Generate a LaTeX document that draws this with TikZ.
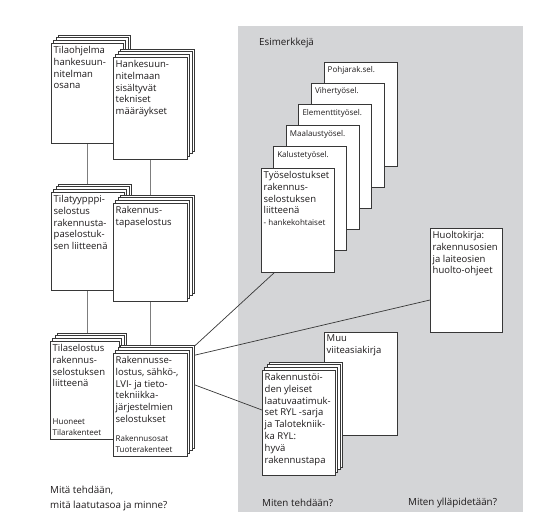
\documentclass[tikz,border=0pt]{standalone}
\usepackage{fontspec}
\setmainfont{Open Sans}
\usetikzlibrary{backgrounds}

\definecolor{panelgray}{RGB}{212,213,215}
\definecolor{edgegray}{RGB}{55,55,55}
\definecolor{linkgray}{RGB}{125,125,125}
\definecolor{inkblack}{RGB}{30,27,28}

\tikzset{
  page/.style={draw=edgegray, fill=white, line width=0.7pt},
  frontpage/.style={page, anchor=north west, outer sep=0pt, inner sep=0pt},
  doctext/.style={anchor=north west, align=left, inner xsep=2.5pt, inner ysep=3pt, text=inkblack, font=\fontsize{9.5}{11.8}\selectfont},
  subtext/.style={anchor=south west, align=left, inner xsep=2.5pt, inner ysep=3pt, text=inkblack, font=\fontsize{8}{10.8}\selectfont},
  tabtext/.style={anchor=north west, inner xsep=3.5pt, inner ysep=4.5pt, text=inkblack, font=\fontsize{8}{9}\selectfont},
  legendtext/.style={anchor=west, align=left, inner sep=0pt, text=inkblack, font=\fontsize{9.8}{15}\selectfont},
  vlink/.style={draw=linkgray, line width=0.8pt},
  link/.style={draw=edgegray, line width=0.7pt}
}

% a front page with three pages behind it
\newcommand{\pagepile}[4]{%
  \foreach \k in {3,2,1}
    \draw[page, shift={(2.6*\k,-2.6*\k)}] #2 rectangle ++(#3,#4);
  \node[frontpage, minimum width=#3pt, minimum height=#4pt] (#1) at #2 {};
}

\begin{document}
\begin{tikzpicture}[x=1pt, y=-1pt]
  \useasboundingbox (0,0) rectangle (543,525);
  \begin{scope}[on background layer]
    \fill[panelgray] (238,26) rectangle (523,512);
  \end{scope}

  % left column
  \pagepile{tila}{(51,43)}{72}{100}
  \node[doctext] (tila-t) at (tila.north west) {Tilaohjelma\\hankesuun-\\nitelman\\osana};
  \pagepile{hanke}{(113,57)}{74}{102}
  \node[doctext] (hanke-t) at (hanke.north west) {Hankesuun-\\nitelmaan\\sisältyvät\\tekniset\\määräykset};
  \pagepile{tyyppi}{(51,192)}{73}{98}
  \node[doctext] (tyyppi-t) at (tyyppi.north west) {Tilatyypppi-\\selostus\\rakennusta-\\paselostuk-\\sen liitteenä};
  \pagepile{tapa}{(113,203)}{74}{98}
  \node[doctext] (tapa-t) at (tapa.north west) {Rakennus-\\tapaselostus};
  \pagepile{tilasel}{(50,341)}{69}{98}
  \node[doctext] (tilasel-t) at (tilasel.north west) {Tilaselostus\\rakennus-\\selostuksen\\liitteenä};
  \node[subtext] (tilasel-s) at (tilasel.south west) {Huoneet\\Tilarakenteet};
  \pagepile{raksel}{(113,353)}{74}{103}
  \node[doctext] (raksel-t) at (raksel.north west) {Rakennusse-\\lostus, sähkö-,\\LVI- ja tieto-\\tekniikka-\\järjestelmien\\selostukset};
  \node[subtext] (raksel-s) at (raksel.south west) {Rakennusosat\\Tuoterakenteet};

  % examples
  \node[legendtext] (esim) at (259,43) {Esimerkkejä};
  \foreach \lbl [count=\i] in {Pohjarak.sel., Vihertyösel., Elementtityösel., Maalaustyösel., Kalustetyösel.} {
    \node[frontpage, minimum width=73pt, minimum height=104pt] (ty\i) at ({324-12.6*(\i-1)},{62+21.2*(\i-1)}) {};
    \node[tabtext] (ty\i-t) at (ty\i.north west) {\lbl};
  }
  \node[frontpage, minimum width=73pt, minimum height=104pt] (tyo) at (261,168) {};
  \node[doctext] (tyo-t) at (tyo.north west) {Työselostukset\\rakennus-\\selostuksen\\liitteenä\\{\fontsize{8}{10}\selectfont - hankekohtaiset}};

  \node[frontpage, minimum width=72pt, minimum height=104pt] (huolto) at (430,228) {};
  \node[doctext] (huolto-t) at (huolto.north west) {Huoltokirja:\\rakennusosien\\ja laiteosien\\huolto-ohjeet};

  \node[frontpage, minimum width=73pt, minimum height=103pt] (muu) at (324,332) {};
  \node[doctext] (muu-t) at (muu.north west) {Muu\\viiteasiakirja};
  \pagepile{ryl}{(262,370)}{73}{105}
  \node[doctext] (ryl-t) at (ryl.north west) {Rakennustöi-\\den yleiset\\laatuvaatimuk-\\set RYL -sarja\\ja Talotekniik-\\ka RYL:\\hyvä\\rakennustapa};

  % connectors
  \begin{scope}[on background layer]
    \draw[vlink] (tila.south) -- (tila.south |- tyyppi.north);
    \draw[vlink] (hanke.south) -- (hanke.south |- tapa.north);
    \draw[vlink] (tyyppi.south) -- (tyyppi.south |- tilasel.north);
    \draw[vlink] (tapa.south) -- (tapa.south |- raksel.north);
    \draw[link] (raksel.north east) -- ([xshift=14pt]tyo.south west);
    \draw[link] ([yshift=-4pt]raksel.north east) -- ([yshift=-20pt]huolto.west);
    \draw[link] ([yshift=-29pt]raksel.north east) -- ([yshift=12.5pt]ryl.west);
  \end{scope}

  % questions
  \node[legendtext, anchor=north west] (mita) at (50,486) {Mitä tehdään,\\mitä laatutasoa ja minne?};
  \node[legendtext] (miten) at (262,503) {Miten tehdään?};
  \node[legendtext] (yllapito) at (408,503) {Miten ylläpidetään?};
\end{tikzpicture}
\end{document}
